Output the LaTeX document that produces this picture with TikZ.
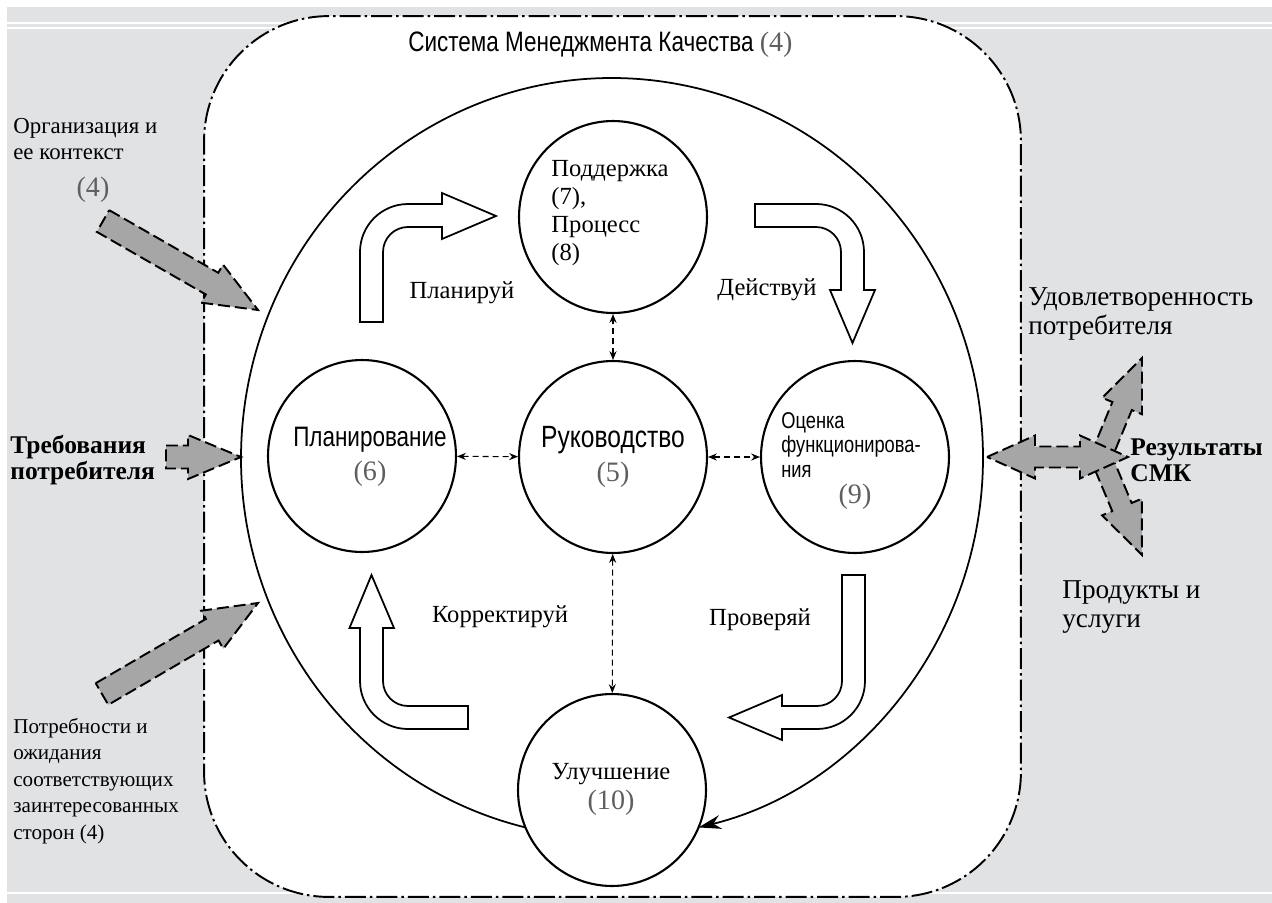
\documentclass[tikz,border=0pt]{standalone}
\usepackage{fontspec}
\setmainfont{Liberation Serif}
\newfontfamily\narrowfont[FakeStretch=0.8]{Liberation Sans}
\usepackage{xcolor}
\usepackage{tikz}
\usetikzlibrary{arrows.meta,positioning,shapes.geometric,calc}
\definecolor{scangray}{RGB}{225,226,228}
\definecolor{arrowgray}{RGB}{166,166,166}
\definecolor{numgray}{RGB}{95,95,95}

\newcommand{\fatarrow}[5]{
    \coordinate (fa) at ($(#2)!#5!(#1)$);
    \draw[fat] ($(#1)!#3!90:(#2)$) -- ($(fa)!#3!90:(#2)$) -- ($(fa)!#4!90:(#2)$) -- (#2)
        -- ($(fa)!#4!-90:(#2)$) -- ($(fa)!#3!-90:(#2)$) -- ($(#1)!#3!-90:(#2)$) -- cycle;
}
\newcommand{\fatdouble}[5]{
    \coordinate (fa) at ($(#1)!#5!(#2)$);
    \coordinate (fb) at ($(#2)!#5!(#1)$);
    \draw[fat] (#1) -- ($(fa)!#4!90:(#2)$) -- ($(fa)!#3!90:(#2)$) -- ($(fb)!#3!-90:(#1)$)
        -- ($(fb)!#4!-90:(#1)$) -- (#2) -- ($(fb)!#4!90:(#1)$) -- ($(fb)!#3!90:(#1)$)
        -- ($(fa)!#3!-90:(#2)$) -- ($(fa)!#4!-90:(#2)$) -- cycle;
}

\begin{document}
\begin{tikzpicture}[x=0.02cm, y=-0.02cm,
    qmsbox/.style={draw, fill=white, line width=1.1pt, rounded corners=2.5cm,
                   dash pattern=on 0.42cm off 0.08cm on 0.05cm off 0.08cm,
                   minimum width=16.34cm, minimum height=17.62cm},
    stage/.style={draw, ellipse, line width=1.2pt, fill=white,
                  minimum width=3.76cm, minimum height=3.84cm, inner sep=0pt},
    fat/.style={draw, fill=arrowgray, line width=1.1pt, line join=miter,
                dash pattern=on 0.24cm off 0.1cm},
    hollow/.style={draw, fill=white, line width=1pt, line join=miter},
    link/.style={{Stealth[length=5pt,width=4pt]}-{Stealth[length=5pt,width=4pt]},
                 line width=0.6pt, dash pattern=on 0.12cm off 0.08cm},
    pdca/.style={-{Stealth[length=0.45cm,width=0.28cm]}, line width=1pt},
    txt/.style={font=\fontsize{13}{15.3}\selectfont, align=left, inner sep=0pt},
    bigtxt/.style={font=\fontsize{15.5}{17}\selectfont, align=left, inner sep=0pt},
    strong/.style={font=\fontsize{14.5}{15}\selectfont\bfseries, align=left, inner sep=0pt},
    smalltxt/.style={font=\fontsize{12}{15}\selectfont, align=left, inner sep=0pt},
    lbl/.style={font=\fontsize{14}{16}\selectfont, inner sep=0pt},
    narrow/.style={font=\narrowfont\fontsize{16}{19}\selectfont, align=center, inner sep=0pt},
    num/.style={text=numgray, font=\fontsize{16}{16}\selectfont, inner sep=0pt}]

    \useasboundingbox (0,0) rectangle (1272,903);
    \fill[scangray] (7,7) rectangle (1272,903);
    \draw[white, line width=0.6pt] (7,23) -- (1272,23) (7,28) -- (1272,28) (7,893) -- (1272,893);

    \node[qmsbox] (qms) at (612.5,456.5) {};
    \node[narrow, anchor=west] (title) at (408,45) {Система Менеджмента Качества {\rmfamily\color{numgray}(4)}};

    \draw[hollow] (360,322) -- (360,252) arc[start angle=180, end angle=90, radius=0.96cm] -- (442,204)
        -- (442,193) -- (496,216) -- (442,239) -- (442,227) -- (408,227)
        arc[start angle=90, end angle=180, radius=0.5cm] -- (383,322) -- cycle;
    \draw[hollow] (755,204) -- (816,204) arc[start angle=90, end angle=0, radius=0.96cm] -- (864,290)
        -- (875,290) -- (852.5,343) -- (830,290) -- (841,290) -- (841,252)
        arc[start angle=0, end angle=90, radius=0.5cm] -- (755,227) -- cycle;
    \draw[hollow] (842,575) -- (865,575) -- (865,681) arc[start angle=0, end angle=-90, radius=0.96cm]
        -- (782,729) -- (782,740) -- (729,717.5) -- (782,695) -- (782,706) -- (817,706)
        arc[start angle=-90, end angle=0, radius=0.5cm] -- cycle;
    \draw[hollow] (468,729) -- (408,729) arc[start angle=-90, end angle=-180, radius=0.96cm]
        -- (360,628) -- (349.5,628) -- (371.5,575) -- (394,628) -- (383,628) -- (383,681)
        arc[start angle=180, end angle=270, radius=0.5cm] -- (468,706) -- cycle;

    \node[lbl] (plan-a) at (462,293) {Планируй};
    \node[lbl] (do-a) at (767,290) {Действуй};
    \node[lbl] (act-a) at (500,617) {Корректируй};
    \node[lbl] (check-a) at (760,620) {Проверяй};

    \node[stage] (supp) at (613,217) {};
    \node[stage] (plan) at (362,456) {};
    \node[stage] (lead) at (613,457) {};
    \node[stage] (perf) at (855,457) {};
    \node[stage] (impr) at (612,790) {};

    \coordinate (mid) at (612,458);
    \draw[pdca] ([shift={(256.5:7.42cm and 7.6cm)}]mid)
        arc[start angle=256.5, end angle=-76.5, x radius=7.42cm, y radius=7.6cm];

    \node[lbl, align=left, font=\fontsize{14}{15.9}\selectfont] (supp-l) at (610,213) {Поддержка\\(7),\\Процесс\\(8)};
    \node[narrow] (plan-l) at (370,457) {Планирование\\{\rmfamily\color{numgray}(6)}};
    \node[narrow, font=\narrowfont\fontsize{17.5}{19}\selectfont] (lead-l) at (lead) {Руководство\\{\rmfamily\fontsize{16}{19}\selectfont\color{numgray}(5)}};
    \node[narrow, font=\narrowfont\fontsize{13}{14}\selectfont, align=left, anchor=north west] (perf-l) at (781,412) {Оценка\\функционирова-\\ния};
    \node[num] (perf-n) at (855,497) {(9)};
    \node[lbl, align=center, font=\fontsize{14}{17}\selectfont] (impr-l) at (611,789) {Улучшение\\{\color{numgray}\fontsize{16}{17}\selectfont(10)}};

    \draw[link] (plan) -- (lead);
    \draw[link] (lead) -- (perf);
    \draw[link] (lead) -- (supp);
    \draw[link] (lead) -- (impr);

    \node[txt, anchor=west] (org) at (13,139) {Организация и\\ее контекст};
    \node[num] (org-n) at (93,190) {(4)};
    \node[strong, anchor=west] (req) at (10,460) {Требования\\потребителя};
    \node[smalltxt, anchor=west] (needs) at (13,781) {Потребности и\\ожидания\\соответствующих\\заинтересованных\\сторон (4)};
    \node[bigtxt, anchor=west] (sat) at (1028,314) {Удовлетворенность\\потребителя};
    \node[strong, anchor=west] (res) at (1130,460) {Результаты\\СМК};
    \node[bigtxt, anchor=west] (prod) at (1062,607) {Продукты и\\услуги};

    \coordinate (orgtail) at (103,221);
    \coordinate (orgtip) at (258,310);
    \coordinate (reqtail) at (166,457);
    \coordinate (reqtip) at (241,457);
    \coordinate (needtail) at (102,694);
    \coordinate (needtip) at (258,603);
    \coordinate (outhub) at (1101,457);
    \coordinate (sattip) at (1142,358);
    \coordinate (prodtip) at (1142,555);
    \coordinate (outin) at (987,457);
    \coordinate (outend) at (1128,457);

    \fatarrow{orgtail}{orgtip}{0.25cm}{0.44cm}{1.06cm}
    \fatarrow{reqtail}{reqtip}{0.23cm}{0.44cm}{1.06cm}
    \fatarrow{needtail}{needtip}{0.25cm}{0.44cm}{1.06cm}
    \fatarrow{outhub}{sattip}{0.21cm}{0.43cm}{1.04cm}
    \fatarrow{outhub}{prodtip}{0.21cm}{0.43cm}{1.04cm}
    \fatdouble{outin}{outend}{0.21cm}{0.43cm}{0.96cm}
\end{tikzpicture}
\end{document}
